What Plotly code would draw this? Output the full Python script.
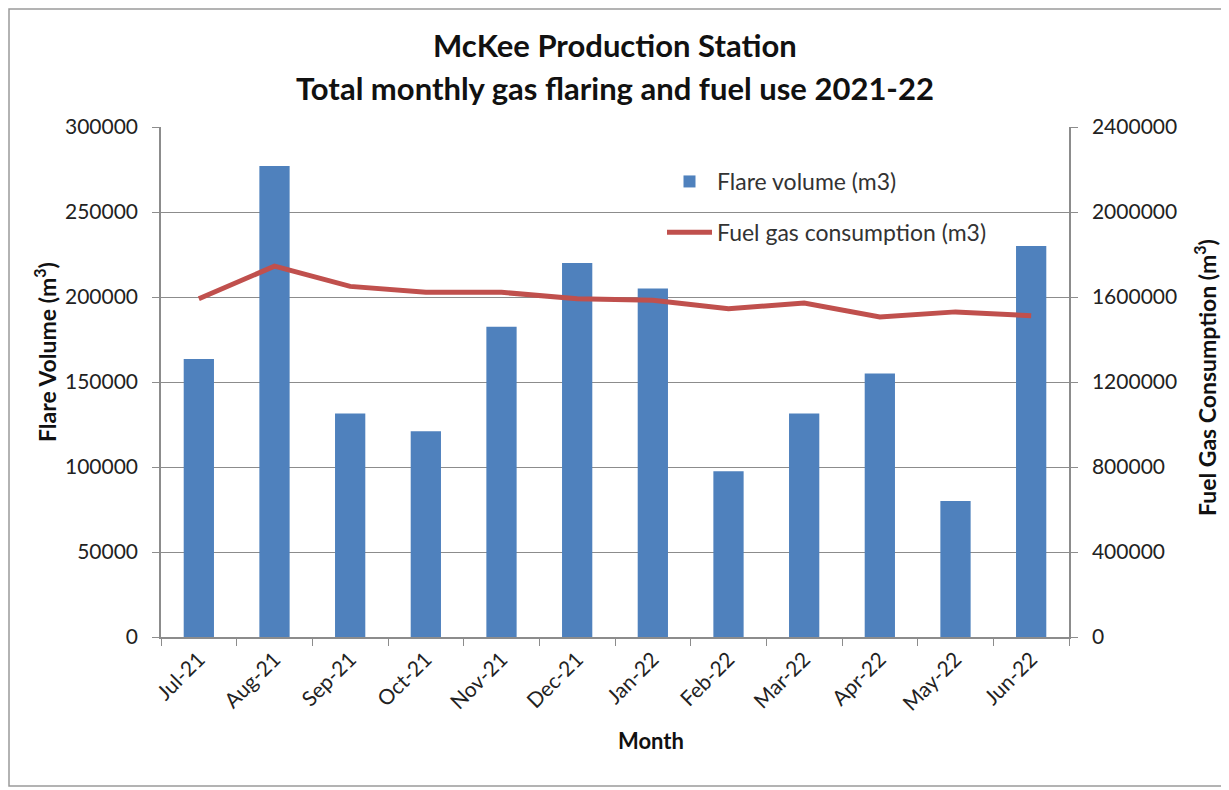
import plotly.graph_objects as go

months = ["Jul-21", "Aug-21", "Sep-21", "Oct-21", "Nov-21", "Dec-21",
          "Jan-22", "Feb-22", "Mar-22", "Apr-22", "May-22", "Jun-22"]
flare_volume = [163500, 277000, 131500, 121000, 182500, 220000,
                205000, 97500, 131500, 155000, 80000, 230000]
fuel_gas = [1592000, 1745000, 1650000, 1622000, 1622000, 1592000,
            1585000, 1545000, 1572000, 1506000, 1530000, 1512000]
left_ticks = [0, 50000, 100000, 150000, 200000, 250000, 300000]
right_ticks = [0, 400000, 800000, 1200000, 1600000, 2000000, 2400000]

FONT = "Lato"
OFF = 8  # page body margin
W, H = 1229 - OFF, 790 - OFF
L, R, T, B = 161, 1069, 127, 637  # absolute pixel positions of plot area

fig = go.Figure()
fig.add_trace(go.Bar(x=months, y=flare_volume, name="Flare volume (m3)",
                     marker=dict(color="#4F81BD", line=dict(width=0)),
                     legendgroup="a"))
fig.add_trace(go.Scatter(x=months, y=fuel_gas, name="Fuel gas consumption (m3)",
                         mode="lines", line=dict(color="#C0504D", width=5),
                         yaxis="y2", legendgroup="b"))

def px_x(p):
    return (p - L) / (R - L)

def px_y(p):
    return (B - p) / (B - T)

fig.update_layout(
    width=W, height=H,
    margin=dict(l=L - OFF, r=W - (R - OFF), t=T - OFF, b=H - (B - OFF)),
    plot_bgcolor="white", paper_bgcolor="white",
    font=dict(family=FONT, size=20, color="#222222"),
    bargap=0.6,
    showlegend=True,
    legend=dict(x=px_x(662), y=px_y(160), xanchor="left", yanchor="top",
                bgcolor="rgba(0,0,0,0)", font=dict(size=23, color="#333333"),
                itemwidth=45, tracegroupgap=18, traceorder="grouped"),
    xaxis=dict(type="category", showline=True, linecolor="#8c8c8c", linewidth=1.5,
               ticks="outside", tickson="boundaries", ticklen=7, tickcolor="#8c8c8c",
               tickangle=-45, tickfont=dict(size=21, color="#222222"),
               showgrid=False),
    yaxis=dict(range=[0, 300000], tickvals=left_ticks, showline=True,
               linecolor="#8c8c8c", linewidth=1.5, ticks="outside", ticklen=7,
               tickcolor="#8c8c8c", showgrid=True, gridcolor="#8c8c8c", gridwidth=1.3,
               zeroline=False, tickformat="d", ticklabelstandoff=10,
               tickfont=dict(size=21, color="#222222")),
    yaxis2=dict(range=[0, 2400000], tickvals=right_ticks, overlaying="y", side="right",
                showline=True, linecolor="#8c8c8c", linewidth=1.5, ticks="outside",
                ticklen=7, tickcolor="#8c8c8c", showgrid=False, zeroline=False,
                tickformat="d", ticklabelstandoff=10,
                tickfont=dict(size=21, color="#222222")),
    annotations=[
        dict(text="<b>McKee Production Station</b>", xref="paper", yref="paper",
             x=0.5, y=px_y(45), showarrow=False, font=dict(size=31, color="#111111"),
             xanchor="center", yanchor="middle"),
        dict(text="<b>Total monthly gas flaring and fuel use 2021-22</b>", xref="paper",
             yref="paper", x=0.5, y=px_y(88), showarrow=False,
             font=dict(size=31, color="#111111"), xanchor="center", yanchor="middle"),
        dict(text="<b>Flare Volume (m<sup>3</sup>)</b>", xref="paper", yref="paper",
             x=px_x(45), y=px_y(352), textangle=-90, showarrow=False,
             font=dict(size=23, color="#111111"), xanchor="center", yanchor="middle"),
        dict(text="<b>Fuel Gas Consumption (m<sup>3</sup>)</b>", xref="paper", yref="paper",
             x=px_x(1205), y=px_y(378), textangle=-90, showarrow=False,
             font=dict(size=23, color="#111111"), xanchor="center", yanchor="middle"),
        dict(text="<b>Month</b>", xref="paper", yref="paper",
             x=px_x(651), y=px_y(740), showarrow=False,
             font=dict(size=22, color="#111111"), xanchor="center", yanchor="middle"),
    ],
    shapes=[dict(type="rect", xref="paper", yref="paper",
                 x0=px_x(OFF + 1), x1=px_x(1223), y0=px_y(786), y1=px_y(OFF + 1),
                 line=dict(color="#9a9a9a", width=1.5), layer="below")],
)

fig.write_html("out.html")
